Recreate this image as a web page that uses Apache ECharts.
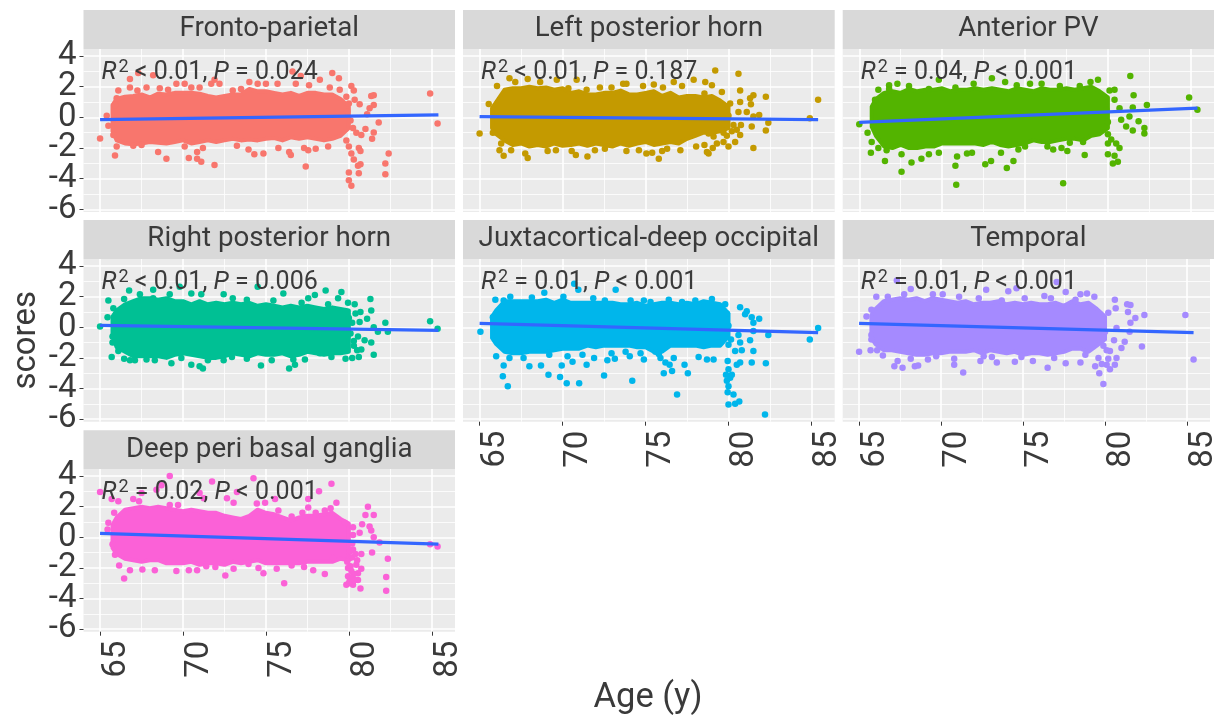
<!DOCTYPE html>
<html><head><meta charset="utf-8">
<style>html,body{margin:0;padding:0;background:#fff}#c{width:1220px;height:715px}</style>
<script src="https://cdn.jsdelivr.net/npm/echarts@6/dist/echarts.min.js"></script></head>
<body><div id="c"></div>
<script>
const panelNames=['Fronto-parietal','Left posterior horn','Anterior PV','Right posterior horn','Juxtacortical-deep occipital','Temporal','Deep peri basal ganglia'];
const panelColors=['#F8766D','#C49A00','#53B400','#00C094','#00B6EB','#A58AFF','#FB61D7'];
const statR=['< 0.01','< 0.01','= 0.04','< 0.01','= 0.01','= 0.01','= 0.02'];
const statP=['= 0.024','= 0.187','< 0.001','= 0.006','< 0.001','< 0.001','< 0.001'];
const xTicks=[65,70,75,80,85], xMinor=[67.5,72.5,77.5,82.5];
const yTicks=[-6,-4,-2,0,2,4], yMinor=[-5,-3,-1,1,3];
const fitAges=[65,85.4];
const fit1=[-0.15,0.17],fit2=[0.05,-0.15],fit3=[-0.33,0.6],fit4=[0.12,-0.2],fit5=[0.25,-0.35],fit6=[0.25,-0.35],fit7=[0.25,-0.45];
const coreAges=[65.75,66,66.5,67,67.5,68,68.5,69,69.5,70,70.5,71,71.5,72,72.5,73,73.5,74,74.5,75,75.5,76,76.5,77,77.5,78,78.5,79,79.5,80];
const high1=[.8,1.2,1.35,1.4,1.5,1.3,1.55,1.5,1.6,1.6,1.6,1.55,1.4,1.3,1.4,1.5,1.5,1.85,1.7,1.7,1.6,1.5,1.6,1.4,1.6,1.6,1.5,1.5,1.2,.7];
const low1=[-.9,-1.5,-1.7,-1.75,-1.7,-1.6,-1.65,-1.7,-1.6,-1.5,-1.7,-1.6,-1.5,-1.6,-1.5,-1.4,-1.5,-1.45,-1.5,-1.4,-1.35,-1.5,-1.3,-1.4,-1.3,-1.4,-1.5,-1.4,-1.2,-.7];
const high2=[.6,1,1.8,1.9,1.9,2,1.9,1.95,1.8,1.9,1.6,1.7,1.5,1.5,1.6,1.6,1.75,1.5,1.5,1.6,1.7,1.4,1.6,1.3,1.4,1.4,1.3,1.4,1.1,.7];
const low2=[-.7,-1.1,-1.5,-1.8,-1.7,-1.9,-1.8,-1.9,-1.7,-1.85,-1.8,-1.7,-1.85,-1.7,-1.8,-1.9,-1.7,-1.85,-1.7,-1.6,-1.8,-1.7,-1.6,-1.7,-1.4,-1.2,-1,-1,-.9,-.7];
const high3=[.7,1.2,1.6,1.7,1.6,1.85,1.7,1.8,1.8,1.9,1.7,1.8,1.8,1.9,1.8,1.9,1.8,1.7,1.9,1.8,1.7,1.9,1.8,1.8,1.9,1.8,1.9,2,1.7,1.3];
const low3=[-.6,-1.2,-1.9,-2,-1.8,-2,-2,-1.9,-1.9,-1.7,-1.7,-1.7,-1.7,-1.7,-1.8,-1.6,-1.8,-1.9,-1.8,-1.7,-1.5,-1.6,-1.6,-1.5,-1.4,-1.4,-1.5,-1.2,-1.1,-.7];
const high4=[.7,1.1,1.5,1.7,1.9,1.9,1.8,1.9,1.7,1.7,1.5,1.7,1.5,1.6,1.5,1.6,1.5,1.6,1.4,1.5,1.4,1.3,1.4,1.3,1.4,1.3,1.2,1.3,1.2,1.1];
const low4=[-.6,-1.3,-1.6,-1.9,-1.9,-1.9,-1.9,-2,-1.8,-1.7,-1.8,-1.9,-2,-2,-1.9,-1.7,-1.8,-1.9,-1.7,-1.8,-1.8,-1.7,-1.9,-1.8,-1.6,-1.7,-1.8,-1.7,-1.7,-1.6];
const high5=[.7,1.1,1.7,1.7,1.7,1.7,1.7,1.8,1.6,1.8,1.6,1.6,1.6,1.6,1.6,1.6,1.5,1.5,1.6,1.4,1.5,1.6,1.6,1.5,1.6,1.5,1.7,1.6,1.5,.9];
const low5=[-.7,-1.1,-1.6,-1.7,-1.7,-1.6,-1.6,-1.6,-1.5,-1.4,-1.4,-1.4,-1.2,-1.3,-1.2,-1.2,-1.2,-1.2,-1.3,-1.3,-1.6,-1.6,-1.2,-1.2,-1.2,-1.2,-1.3,-1.2,-1.2,-.6];
const high6=[.8,1.2,1.7,1.8,1.9,1.8,1.9,1.7,1.9,1.8,1.7,1.6,1.7,1.5,1.6,1.6,1.7,1.5,1.6,1.5,1.6,1.5,1.5,1.6,1.4,1.7,1.5,1.6,1.2,.7];
const low6=[-.7,-1.1,-1.5,-1.5,-1.6,-1.7,-1.8,-1.8,-1.7,-1.7,-1.6,-1.6,-1.6,-1.5,-1.7,-1.5,-1.6,-1.7,-1.6,-1.8,-1.7,-1.7,-1.8,-1.7,-1.6,-1.4,-1.4,-1.6,-1.2,-.8];
const high7=[.8,1.3,1.8,1.9,2,1.9,2,1.9,1.8,1.7,1.8,1.7,1.6,1.6,1.4,1.3,1.2,1.4,1.8,1.6,1.5,1.3,1.1,1.3,1.4,1.4,1.5,1.6,1.2,.9];
const low7=[-.7,-1.1,-1.4,-1.5,-1.6,-1.5,-1.5,-1.7,-1.7,-1.7,-1.6,-1.8,-1.7,-1.7,-1.8,-1.6,-1.7,-1.6,-1.5,-1.7,-1.7,-1.7,-1.7,-1.7,-1.6,-1.6,-1.6,-1.6,-1.4,-1.5];
const pts1=[[65,-1.37],[65.9,-2.48],[66,-1.9],[65.4,.1],[65.5,-.55],[65.8,-1.15],[67.3,2.9],[68.2,2.75],[66.8,2.5],[66.8,1.95],[66.1,1.75],[66,1.25],[65.9,.8],[67.25,1.75],[67.8,1.95],[68.6,1.9],[69.1,1.8],[69.6,2.2],[70.1,2.2],[70.5,1.95],[71,1.95],[71.7,2.2],[71.9,2.45],[72.2,2.2],[73,1.75],[73.5,1.85],[74,2.3],[74.5,2.2],[75,2.2],[75.7,2.2],[76.6,3],[77.1,2.7],[76.8,2.2],[77.6,2.1],[78.25,2.45],[79,2.9],[79.4,2.55],[78.85,1.95],[79.45,1.8],[80.15,2.05],[80.3,1.75],[79.85,1.35],[80.35,1.15],[80.65,.85],[81.35,1.4],[81.5,1.45],[81.5,.8],[81.25,.6],[81.1,.2],[81.8,-.33],[81,-.75],[81.5,-.98],[81.4,-1.4],[82.4,-2.35],[82.2,-3],[82.2,-3.7],[84.9,1.55],[85.35,-.4],[80.15,-4.45],[80,-4.1],[80,-3.6],[80.6,-3.65],[80.55,-3.15],[80.7,-3.05],[80.3,-2.75],[80.15,-2.35],[80.6,-2],[80.7,-2.2],[80,-1.9],[79.85,-1.5],[80.45,-1],[80.75,-1.15],[80.25,-.7],[77.4,-3.2],[71.9,-3.1],[71.1,-2.9],[70.85,-2.7],[70.85,-2.25],[70.35,-2.65],[69,-2.7],[68.5,-2.25],[74.85,-2.35],[74.3,-2.4],[73.95,-2.1],[75.75,-2],[76.4,-2.25],[76.5,-2.45],[77.3,-2],[77.55,-2.15],[78,-2.05],[78.75,-1.9],[73.25,-1.85],[71.2,-2],[70.1,-1.9],[67.5,-1.8],[67,-1.85],[79.9,.4],[80.1,-.2],[80,.9]];
const pts2=[[65,-1.05],[65.8,-1],[65.55,.87],[66.05,2.05],[66.8,2.55],[67.15,2.3],[67.9,2.5],[68.65,2.3],[69.65,2.45],[70.85,2.45],[70.35,1.9],[71.45,1.8],[72.25,1.95],[72.95,1.95],[73.65,2.2],[73.85,2.2],[74.85,2.05],[75.5,2.15],[76.05,1.95],[76.7,2.3],[77.2,2.05],[77.9,2.45],[78.6,2.3],[79,2.1],[79.2,3.05],[80.6,2.85],[80.7,1.75],[78.55,1.55],[79.6,1.65],[81.5,1.45],[81.3,1.25],[82.25,1.35],[80.7,1],[81.35,.85],[80.6,.35],[81.1,.35],[81.85,.15],[81.5,.05],[82.4,-.35],[82.25,-.85],[81.4,-.6],[81.5,-2],[80.75,-.5],[80.7,-1.15],[80.4,-1.6],[80,-1.9],[79.7,-1.6],[78.8,-2.35],[78.7,-2.25],[79.05,-2],[78.05,-1.9],[78.55,-1.8],[77.1,-2.15],[76.3,-2.05],[76,-2.2],[75.8,-2.7],[75.4,-2.3],[75.05,-2.35],[74.6,-2.15],[73.85,-2.2],[72.55,-2.05],[71.95,-2.15],[71.5,-2.55],[70.8,-2.45],[70.55,-2.2],[69.6,-2.15],[69.1,-2.2],[67.9,-2.65],[67.75,-2.35],[66.9,-2.15],[66.45,-2.5],[66.2,-2.15],[66.3,-1.7],[85.4,1.15],[84.9,-.05],[79.7,-1],[80.2,-.9],[80.5,-.8],[79.9,-1.2],[79.1,-1.25],[78.8,-1.05],[79.3,-1.7],[80.3,-.5],[79.9,.3],[80.1,.9],[80,.1]];
const pts3=[[65,-.45],[65.5,-1],[65.7,-2.3],[66.55,-2.85],[67.55,-3.55],[68.15,-2.95],[68.75,-2.7],[69.2,-2.4],[67.55,-2.4],[66.65,-2.15],[66.15,-2],[65.75,-1.6],[69.8,-2.3],[70.8,-3.15],[70.85,-4.4],[70.9,-2.55],[71.5,-2.35],[71.8,-2.3],[72.6,-3.05],[72.95,-2.85],[73.55,-2.3],[73.9,-3.3],[74.3,-2.85],[74.6,-2.1],[75,-1.9],[76.35,-1.9],[76.7,-2.1],[77.2,-2],[77.55,-2.2],[77.7,-1.65],[78.6,-2.45],[78.5,-1.6],[77.3,-4.3],[80,-2.4],[80.4,-2.5],[80.6,-2.9],[80.3,-3],[80.7,-2],[80.5,-1.7],[80,-1.7],[80.2,-1.45],[80,-1.1],[81.1,-.6],[81.5,-.85],[82.2,-.7],[82.2,-1.05],[81.85,-.25],[81.3,.05],[80.8,-.15],[80.7,.6],[81.5,.65],[82.35,.8],[81.55,1.45],[81.35,2.7],[80.4,1.15],[80.4,1.8],[80.1,1.75],[79.4,2.45],[78.95,2.3],[78.3,2.05],[77.1,2.05],[76,2.2],[75.3,2.2],[74.5,2.1],[73.8,2.3],[73,2.55],[71.9,2.2],[70.8,1.95],[69.8,2.45],[69.2,1.85],[68,2.05],[67.3,2.2],[66.8,2.1],[66.8,1.85],[66.15,1.8],[65.95,1.15],[65.95,.7],[84.9,1.3],[85.4,.5],[79.9,.5],[80,-.3]];
const pts4=[[65,.05],[65.5,1.75],[65.45,.65],[65.75,-.6],[65.75,-1],[65.7,-1.95],[66.1,-1.55],[66.45,-2.05],[66.8,-2.15],[67.1,-2.15],[66.75,2.4],[66.45,1.85],[65.8,1.25],[68.2,2.45],[67.8,-2.1],[68.3,-2.15],[69.3,-2.35],[69.9,-2],[70.5,-2.45],[71.2,-2.7],[71,-2.55],[71.5,-2.15],[72.45,-2.15],[72.95,-1.95],[73.85,-2.05],[74.7,-2.5],[75.35,-2.15],[76.4,-2.7],[76.75,-2.45],[76.65,-2.1],[77.35,-2.1],[78.25,-1.7],[78.95,-1.95],[79.8,-2.05],[80.2,-2],[80.6,-1.95],[81.5,-1.8],[80.75,-1.45],[80.95,-.85],[81.35,-1],[80.55,-.6],[81.5,0],[81.75,-.3],[82.2,.3],[82.35,-.3],[81.1,.55],[80.65,.35],[81.35,1.1],[81.3,1.85],[80.7,1],[80.35,1.5],[79.95,1.6],[79.55,2.3],[79.35,1.9],[78.6,2.4],[78.75,1.5],[77.95,2.1],[77.55,1.9],[77.15,1.6],[76.05,2.2],[75.45,1.75],[74.5,2.65],[73.85,1.8],[73,1.9],[72.45,2.15],[71.1,2.15],[70.5,2.2],[69.8,2.65],[69.2,2.15],[68.2,1.9],[67.4,2.15],[84.9,.4],[85.35,-.1],[80,.6],[80.1,-.4],[80.3,-1.2],[79.9,-1.4],[80.4,.9],[80.3,-.9],[80.5,-1.5],[80.2,.3]];
const pts5=[[65.05,-.3],[65.8,.65],[65.95,1.8],[66.45,1.75],[66.85,2],[68.15,1.95],[68.9,2.25],[70.05,2],[70.7,2.85],[70.95,2.45],[71.85,1.9],[73.2,2.45],[72.55,1.75],[74.1,1.75],[74.9,1.75],[75.3,1.65],[76.4,1.8],[77.2,1.65],[78,1.75],[79,1.85],[79.8,1.5],[80.7,1.3],[81.1,1.05],[81,.85],[81.4,.65],[81.85,.55],[81.5,.3],[81.5,-.25],[82.4,-.5],[80.6,-.5],[81.3,-.85],[80.7,-1],[80.8,-1.5],[81.5,-1.55],[81.4,-2.3],[82.25,-2.35],[82.2,-5.7],[80,-5.05],[80.4,-5],[80.65,-4.85],[80.3,-4.4],[79.95,-4.25],[80,-3.85],[79.9,-3.5],[80.1,-3.3],[79.85,-3.1],[80.2,-3.1],[80,-2.75],[79.95,-2.2],[80.5,-2.45],[80.7,-2.3],[80.4,-1.55],[80,-1.15],[79.5,-1],[80.15,-.8],[79.1,-2.1],[78.7,-2.1],[78.2,-1.95],[77.55,-3],[77.35,-2.45],[76.6,-2.85],[76.1,-3],[76.9,-4.4],[76.45,-2.45],[75.9,-2],[74.9,-2.1],[74.2,-3.5],[74.05,-1.9],[73.15,-2.05],[72.5,-3.15],[72.7,-2.15],[71.9,-2],[71.45,-2.45],[71,-3.65],[70.6,-2.25],[70.25,-3.65],[69.85,-3.25],[69.95,-2.5],[69.15,-3.1],[68.7,-2.5],[68,-2.55],[67.65,-2],[66.8,-2],[66.45,-2.5],[66.4,-3.2],[66.7,-3.85],[66,-1.9],[85.4,-.05],[84.9,-.8],[79.9,.9],[80,.1],[76.2,-2.3],[75.8,-1.75],[76.7,-2],[75.6,-1.6],[74.7,-1.7],[73.8,-1.6],[72.95,-1.7],[71.2,-1.8],[70.3,-1.9],[69.2,-1.8]];
const pts6=[[65,-1.6],[65.7,-1.5],[66.1,-1.5],[66.45,-1.85],[67.15,-2.55],[67.65,-2.65],[67.35,-2.2],[68.4,-2.55],[68.6,-2.5],[68.15,-2.05],[69.2,-2.1],[69.7,-1.9],[70.8,-2.45],[70.8,-2.05],[71.35,-2.95],[72.4,-2.2],[72.6,-1.9],[73.4,-2.3],[73.1,-1.95],[74.5,-2.25],[74.9,-1.95],[75.6,-2.2],[76.5,-2.65],[76.9,-2],[77.6,-2.35],[78.5,-2.3],[78.8,-1.8],[79.4,-2.55],[79.65,-3],[79.9,-3.7],[80.1,-2.45],[80.3,-2.75],[80.6,-2.45],[80.7,-2],[80.3,-1.55],[79.6,-2],[81,-1.35],[81.2,-.95],[80.55,-.85],[82.25,-1.25],[81.5,-.3],[80.7,-.05],[81.55,.3],[81.85,.6],[82.4,.8],[81.4,1],[80.2,.95],[79.9,.5],[81.55,1.45],[81.35,1.5],[80.65,1.25],[80.6,1.8],[79.35,2],[78.9,2.2],[78.5,2.15],[78.2,1.8],[77.6,2.3],[77.05,2.95],[76.3,2.05],[76.7,1.9],[75.1,1.9],[74.6,2.55],[74.1,2.35],[73.7,1.75],[72.75,2.45],[72.3,1.9],[71.1,2],[70.1,2.15],[69.5,2.15],[68.15,2.5],[67.75,2.15],[67.3,3.05],[66.75,2],[66.05,2],[65.45,.7],[65.75,1.15],[65.75,-.5],[65.75,-.8],[84.9,.8],[85.4,-2.1],[80,-.3],[79.9,-1.2],[80.1,-1.5],[79.8,-2.4],[80.2,-2.05]];
const pts7=[[65,2.95],[65.5,.95],[65.45,.5],[65.75,-.45],[65.9,-1.15],[66.15,-1.85],[66.45,-2.7],[66.8,-2.15],[67.55,-2.1],[68.3,-2.15],[69.6,-2.2],[70.35,-2.15],[70.85,-2.15],[71.4,-1.9],[71.95,-1.95],[72.55,-2.5],[73.05,-2.05],[73.95,-1.75],[74.55,-2],[74.85,-2.35],[75.65,-2.05],[76.1,-3],[76.55,-1.85],[77.3,-1.95],[77.85,-2.15],[78.55,-2.4],[79.05,-1.35],[79.85,-3.1],[80.05,-2.85],[79.95,-2.55],[79.95,-2],[80.05,-1.35],[80.25,-.8],[80.55,-2.8],[80.7,-3.35],[80.25,-3.1],[80.75,-2.05],[80.45,-1.8],[80.55,-2.35],[80.75,-1.1],[81.4,-1],[82.35,-1.4],[82.25,-2.6],[82.25,-3.5],[81.85,-.35],[81.5,0],[81.35,.45],[81.25,.7],[80.65,.3],[80.25,.15],[80.25,.65],[80.8,.85],[81,1.45],[81.5,1.45],[81.15,2],[79.75,.95],[79.25,2.25],[78.9,1.9],[78.95,3.5],[78.2,3],[77.55,2.5],[77.55,1.95],[78,1.6],[78.55,1.75],[77.2,1.6],[76.55,1.35],[75.75,1.75],[74.95,2.25],[75.55,2.5],[74.25,3.85],[74.45,2.2],[73.25,2.95],[73.05,2.25],[72.65,2.55],[71.75,3.65],[71,2.9],[71.25,2.55],[69.2,4],[68.7,3.4],[68.4,3.1],[67.5,2.9],[67,2.5],[67.35,2.35],[69.7,2.1],[69.2,2.1],[66.1,2.35],[65.7,2.5],[65.85,1.6],[84.9,-.45],[85.35,-.6],[80.1,-1.9],[80.3,-2.4],[80.2,-1.3],[79.9,-1.6],[80.15,-2.2],[80.35,-2.8],[80,-3],[80.2,-.4],[80.4,-1.1],[80.1,-.9],[80.5,-1.5],[80.1,-2.7]];
const allPts=[pts1,pts2,pts3,pts4,pts5,pts6,pts7];
const allHigh=[high1,high2,high3,high4,high5,high6,high7];
const allLow=[low1,low2,low3,low4,low5,low6,low7];
const allFit=[fit1,fit2,fit3,fit4,fit5,fit6,fit7];

const colX=[[83.5,455],[463,834.7],[842.7,1214]];
const rowY=[[10,49,212],[220,259,421.7],[430.3,469,631.7]];
const ink='#3a3a3a', FF='Roboto';
const yLabelsA=yTicks.filter((v,k)=>k%2===0), yLabelsB=yTicks.filter((v,k)=>k%2===1);
const grid=[],xAxis=[],yAxis=[],series=[],title=[],graphic=[];
panelNames.forEach((name,i)=>{
  const col=i%3,row=Math.floor(i/3);
  const [L,R]=colX[col],[S,T,B]=rowY[row];
  const showY=col===0;
  const showX=(row===2)||(row===1&&col>0);
  grid.push({left:L,top:T,width:R-L,height:B-T,show:true,backgroundColor:'#EBEBEB',borderWidth:0});
  const xr={min:64,max:86.4,type:'value',gridIndex:i};
  const yr={min:-6.17,max:4.46,type:'value',gridIndex:i};
  const yLab={show:showY,margin:7,padding:[6,0,0,0],hideOverlap:false,fontFamily:FF,fontSize:33,color:ink,formatter:v=>String(v)};
  xAxis.push({...xr,position:'bottom',axisLine:{show:false,onZero:false},
    axisTick:{show:showX,length:4,customValues:xTicks,lineStyle:{color:ink,width:1}},
    axisLabel:{show:showX,customValues:xTicks,rotate:90,verticalAlign:'top',align:'right',margin:9,lineHeight:33,showMinLabel:true,showMaxLabel:true,hideOverlap:false,fontFamily:FF,fontSize:33,color:ink,formatter:v=>String(v)},
    splitLine:{show:true,lineStyle:{color:'#fff',width:1.6}}});
  xAxis.push({...xr,position:'bottom',axisLine:{show:false,onZero:false},axisTick:{show:false,customValues:xMinor},axisLabel:{show:false,customValues:xMinor},
    splitLine:{show:true,lineStyle:{color:'#fff',width:.8}}});
  yAxis.push({...yr,position:'left',axisLine:{show:false,onZero:false},
    axisTick:{show:showY,length:4,customValues:yTicks,lineStyle:{color:ink,width:1}},
    axisLabel:{...yLab,customValues:yLabelsA},
    splitLine:{show:true,lineStyle:{color:'#fff',width:1.6}},
    ...(i===3?{name:'scores',nameLocation:'middle',nameGap:40,nameRotate:90,nameTextStyle:{fontFamily:FF,fontSize:33,color:ink}}:{})});
  yAxis.push({...yr,position:'left',axisLine:{show:false,onZero:false},axisTick:{show:false,customValues:yMinor},axisLabel:{...yLab,customValues:yLabelsB},
    splitLine:{show:true,lineStyle:{color:'#fff',width:.8}}});
  const xi=i*2,yi=i*2;
  series.push({type:'custom',name:name+' dense core',xAxisIndex:xi,yAxisIndex:yi,silent:true,z:2,data:[[72,0]],
    renderItem:(p,api)=>{
      const pts=[];
      coreAges.forEach((a,k)=>pts.push(api.coord([a,allHigh[i][k]])));
      for(let k=coreAges.length-1;k>=0;k--)pts.push(api.coord([coreAges[k],allLow[i][k]]));
      return {type:'polygon',shape:{points:pts},style:{fill:panelColors[i],stroke:panelColors[i],lineWidth:4,lineJoin:'round'}};
    }});
  series.push({type:'scatter',name:name,xAxisIndex:xi,yAxisIndex:yi,z:3,symbolSize:6.5,itemStyle:{color:panelColors[i],opacity:1},data:allPts[i]});
  series.push({type:'line',name:name+' fit',xAxisIndex:xi,yAxisIndex:yi,z:4,showSymbol:false,silent:true,lineStyle:{color:'#3366FF',width:3.2},
    data:fitAges.map((a,k)=>[a,allFit[i][k]])});
  graphic.push({type:'rect',z:-1,shape:{x:L,y:S,width:R-L,height:T-S},style:{fill:'#D9D9D9'}});
  title.push({text:name,left:(L+R)/2,top:(S+T)/2,textAlign:'center',textVerticalAlign:'middle',padding:0,
    textStyle:{fontFamily:FF,fontSize:27.7,fontWeight:'normal',color:ink}});
  title.push({text:`{i|R}{s|2}{n| ${statR[i]}, }{i|P}{n| ${statP[i]}}`,left:L+18,top:T+9,padding:0,
    textStyle:{fontFamily:FF,fontSize:25,fontWeight:'normal',color:ink,
      rich:{i:{fontFamily:FF,fontSize:25,fontStyle:'italic',color:ink},n:{fontFamily:FF,fontSize:25,color:ink},s:{fontFamily:FF,fontSize:18,color:ink,verticalAlign:'top',padding:[0,0,12,2]}}}});
});
title.push({text:'Age (y)',left:648,top:698,textAlign:'center',textVerticalAlign:'middle',padding:0,textStyle:{fontFamily:FF,fontSize:34.5,fontWeight:'normal',color:ink}});
const chart=echarts.init(document.getElementById('c'),null,{renderer:'canvas'});
chart.setOption({animation:false,backgroundColor:'#fff',tooltip:{show:false},grid,xAxis,yAxis,series,title,graphic});
</script></body></html>
